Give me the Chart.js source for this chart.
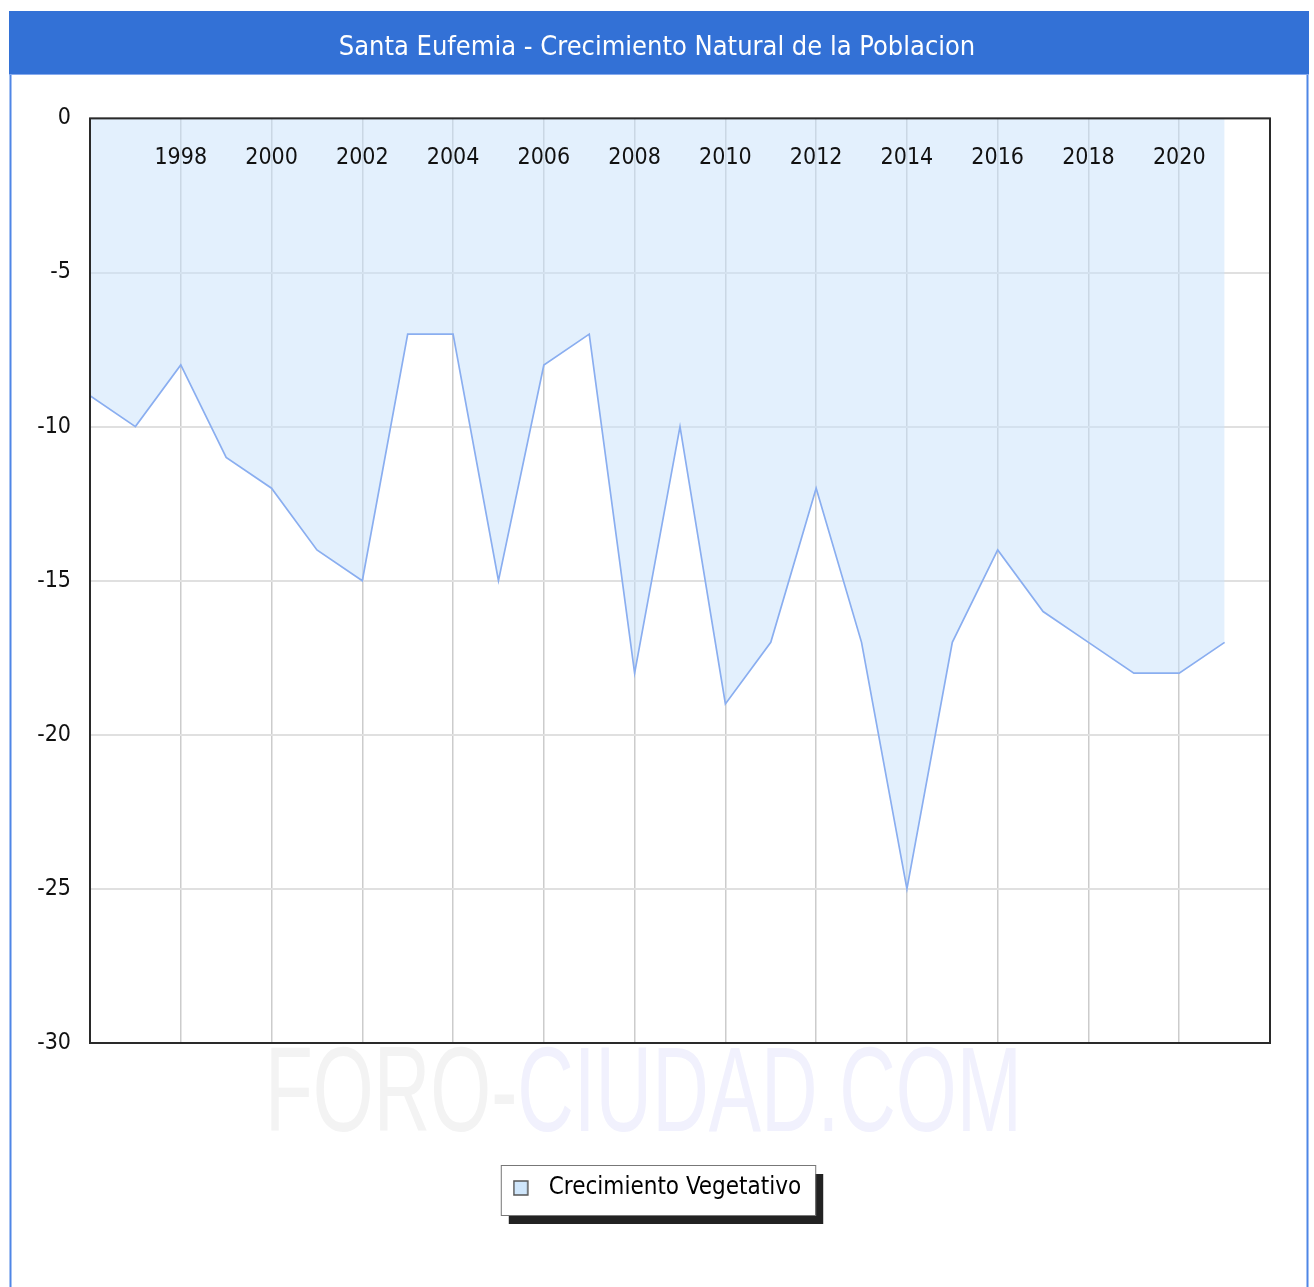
<!DOCTYPE html>
<html lang="es">
<head>
<meta charset="utf-8">
<title>Santa Eufemia - Crecimiento Natural de la Poblacion</title>
<script src="https://cdn.jsdelivr.net/npm/chart.js@4.4.1/dist/chart.umd.min.js"></script>
<style>
  html, body { margin: 0; padding: 0; background: #fff; }
  #wrap { position: relative; width: 1314px; height: 1287px; }
</style>
</head>
<body>
<div id="wrap"><canvas id="chart"></canvas></div>
<script>
/* ---- Data ---- */
const TITLE = "Santa Eufemia - Crecimiento Natural de la Poblacion";
const SERIES_LABEL = "Crecimiento Vegetativo";
const WATERMARK = ["FORO-", "CIUDAD.COM"];

const YEARS = [1996, 1997, 1998, 1999, 2000, 2001, 2002, 2003, 2004, 2005, 2006, 2007, 2008,
               2009, 2010, 2011, 2012, 2013, 2014, 2015, 2016, 2017, 2018, 2019, 2020, 2021];
const CRECIMIENTO = [-9, -10, -8, -11, -12, -14, -15, -7, -7, -15, -8, -7, -18,
                     -10, -19, -17, -12, -17, -25, -17, -14, -16, -17, -18, -18, -17];

const X_TICKS = [1998, 2000, 2002, 2004, 2006, 2008, 2010, 2012, 2014, 2016, 2018, 2020];
const Y_TICKS = [0, -5, -10, -15, -20, -25, -30];
const X_MIN = 1996, X_MAX = 2022;
const Y_MIN = -30, Y_MAX = 0;

/* ---- Styles ---- */
const FONT = '"DejaVu Sans Condensed", "DejaVu Sans", sans-serif';
const TITLE_BLUE = "#3371d6";
const FRAME_BLUE = "#4f86e6";
const LINE_BLUE = "#8aaef0";
const FILL_BLUE = "rgba(199,225,251,0.5)";

/* legend marker: small outlined square, left part of a wider slot */
function legendMarker() {
  const c = document.createElement("canvas");
  c.width = 24; c.height = 16;
  const g = c.getContext("2d");
  g.fillStyle = "#cfe6fb";
  g.fillRect(1, 1, 14, 14);
  g.strokeStyle = "#555";
  g.lineWidth = 1.5;
  g.strokeRect(1, 1, 14, 14);
  return c;
}

/* Frame, title bar, watermark and legend box */
const framePlugin = {
  id: "frame",
  beforeDraw(chart) {
    const { ctx, width, height } = chart;
    ctx.save();
    ctx.fillStyle = "#fff";
    ctx.fillRect(0, 0, width, height);

    // outer blue frame
    ctx.strokeStyle = FRAME_BLUE;
    ctx.lineWidth = 2;
    ctx.beginPath();
    ctx.moveTo(10.5, 11); ctx.lineTo(10.5, height);
    ctx.moveTo(1307.5, 11); ctx.lineTo(1307.5, height);
    ctx.stroke();

    // title bar
    ctx.fillStyle = TITLE_BLUE;
    ctx.fillRect(9, 11, 1300, 63);
    ctx.fillStyle = "#86aaee";
    ctx.fillRect(9, 74, 1300, 1);

    // watermark
    ctx.font = '120px "Liberation Sans", Arial, sans-serif';
    ctx.textBaseline = "alphabetic";
    const full = ctx.measureText(WATERMARK.join("")).width;
    const sx = 757 / full;
    ctx.translate(265, 1131);
    ctx.scale(sx, 1);
    ctx.fillStyle = "#f3f3f3";
    ctx.fillText(WATERMARK[0], 0, 0);
    const w0 = ctx.measureText(WATERMARK[0]).width;
    ctx.fillStyle = "#f1f1fd";
    ctx.fillText(WATERMARK[1], w0, 0);
    ctx.setTransform(1, 0, 0, 1, 0, 0);
    ctx.restore();

    // legend box with shadow
    const hb = chart.legend && chart.legend.legendHitBoxes && chart.legend.legendHitBoxes[0];
    if (hb) {
      const x = hb.left - 12, y = hb.top - 11;
      const w = hb.width + 26, h = 50;
      ctx.save();
      ctx.fillStyle = "#222";
      ctx.fillRect(x + 8, y + 9, w, h);
      ctx.fillStyle = "#fff";
      ctx.fillRect(x, y, w, h);
      ctx.strokeStyle = "#777";
      ctx.lineWidth = 1;
      ctx.strokeRect(x + 0.5, y + 0.5, w, h);
      ctx.restore();
    }
  },
  afterDraw(chart) {
    const { ctx, chartArea: a } = chart;
    ctx.save();
    ctx.strokeStyle = "#2a2a2a";
    ctx.lineWidth = 2;
    ctx.strokeRect(a.left, a.top, a.right - a.left, a.bottom - a.top);
    ctx.restore();
  },
};

const marker = legendMarker();

new Chart(document.getElementById("chart"), {
  type: "line",
  data: {
    datasets: [
      {
        label: SERIES_LABEL,
        data: YEARS.map((y, i) => ({ x: y, y: CRECIMIENTO[i] })),
        borderColor: LINE_BLUE,
        backgroundColor: FILL_BLUE,
        fill: "end",
        tension: 0,
        pointRadius: 0,
        borderWidth: 1.7,
      },
    ],
  },
  options: {
    responsive: true,
    maintainAspectRatio: false,
    animation: false,
    layout: { padding: { left: 10, right: 10, top: 11, bottom: 77 } },
    plugins: {
      title: {
        display: true,
        text: TITLE,
        color: "#fff",
        font: { family: FONT, size: 27, weight: "normal" },
        padding: { top: 21, bottom: 10 },
      },
      legend: {
        position: "bottom",
        labels: {
          color: "#111",
          font: { family: FONT, size: 24 },
          usePointStyle: true,
          pointStyleWidth: 24,
          boxHeight: 16,
          padding: 10,
          generateLabels: () => [{
            text: SERIES_LABEL,
            pointStyle: marker,
            fillStyle: "#cfe6fb",
            strokeStyle: "#555",
            lineWidth: 0,
            datasetIndex: 0,
          }],
        },
      },
      tooltip: { enabled: false },
    },
    scales: {
      x: {
        type: "linear",
        position: "top",
        min: X_MIN,
        max: X_MAX,
        afterBuildTicks: (s) => { s.ticks = X_TICKS.map((v) => ({ value: v })); },
        afterFit: (s) => { s.height = 44; },
        grid: { color: "#cccccc", lineWidth: 1.5, drawTicks: false },
        border: { display: false },
        ticks: {
          z: 1,
          mirror: true,
          padding: 26,
          maxRotation: 0,
          autoSkip: false,
          color: "#111",
          font: { family: FONT, size: 23 },
          callback: (v) => String(v),
        },
      },
      x2: {
        type: "linear",
        position: "bottom",
        min: X_MIN,
        max: X_MAX,
        grid: { display: false },
        border: { display: false },
        ticks: { display: false },
        afterFit: (s) => { s.height = 123; },
      },
      y: {
        min: Y_MIN,
        max: Y_MAX,
        afterBuildTicks: (s) => { s.ticks = Y_TICKS.map((v) => ({ value: v })); },
        afterFit: (s) => { s.width = 80; },
        grid: { color: "#e0e0e0", lineWidth: 2, drawTicks: false },
        border: { display: false },
        ticks: {
          padding: 19,
          color: "#111",
          font: { family: FONT, size: 23 },
        },
      },
      y2: {
        position: "right",
        min: Y_MIN,
        max: Y_MAX,
        grid: { display: false },
        border: { display: false },
        ticks: { display: false },
        afterFit: (s) => { s.width = 34; },
      },
    },
  },
  plugins: [framePlugin],
});
</script>
</body>
</html>
